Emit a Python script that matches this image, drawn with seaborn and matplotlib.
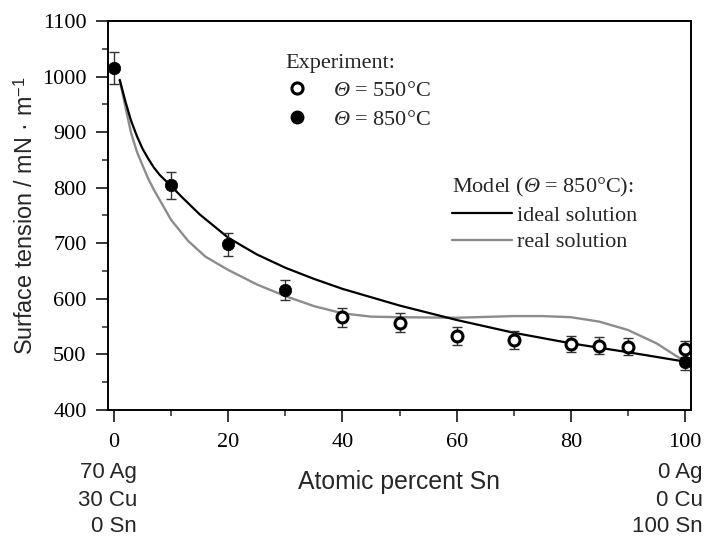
import matplotlib
matplotlib.use("Agg")
import matplotlib.pyplot as plt
import seaborn as sns
import pandas as pd
from matplotlib.lines import Line2D
from matplotlib.ticker import MultipleLocator

# ---------------- data ----------------
x_850 = [0, 10, 20, 30, 100]
y_850 = [1016, 804, 698, 616, 487]
err_850 = [29, 24, 21, 18, 15]

x_550 = [40, 50, 60, 70, 80, 85, 90, 100]
y_550 = [567, 557, 533, 526, 519, 516, 514, 510]
err_550 = [17, 17, 16, 16, 15, 15, 15, 15]

x_ideal = [1, 2, 3, 4, 5, 6, 7, 8, 10, 12, 15, 20, 25, 30, 35, 40, 50, 60, 70, 80, 90, 100]
y_ideal = [994, 955, 920, 893, 870, 852, 836, 823, 803, 782, 752, 710, 680, 656, 636, 618,
           588, 562, 539, 520, 504, 487]

x_real = [1, 2, 3, 4, 5, 6, 7, 8, 10, 13, 16, 20, 25, 30, 35, 40, 45, 50, 60, 70, 75, 80,
          85, 90, 95, 100]
y_real = [994, 945, 898, 865, 840, 816, 796, 778, 742, 704, 676, 652, 626, 605, 587, 574,
          568, 567, 566, 569, 569, 567, 559, 544, 520, 487]

left_comp = ["70 Ag", "30 Cu", "0 Sn"]
right_comp = ["0 Ag", "0 Cu", "100 Sn"]

# ---------------- style ----------------
sns.set_style("ticks")
plt.rcParams["font.family"] = ["Liberation Serif", "DejaVu Serif"]
plt.rcParams["mathtext.fontset"] = "custom"
plt.rcParams["mathtext.rm"] = "Liberation Serif"
plt.rcParams["mathtext.it"] = "Liberation Serif:italic"
plt.rcParams["mathtext.cal"] = "Liberation Serif:italic"
plt.rcParams["mathtext.sf"] = "Liberation Sans"

FS = 16
SANS = ["Liberation Sans", "DejaVu Sans"]
THETA = r"$\mathcal{\Theta}$"

fig = plt.figure(figsize=(7.07, 5.37), dpi=100)
ax = fig.add_axes([0.1528, 0.2365, 0.8242, 0.7244])

df_ideal = pd.DataFrame({"x": x_ideal, "y": y_ideal})
df_real = pd.DataFrame({"x": x_real, "y": y_real})
sns.lineplot(data=df_real, x="x", y="y", ax=ax, color="#8c8c8c", linewidth=1.7,
             estimator=None, sort=False, zorder=2)
sns.lineplot(data=df_ideal, x="x", y="y", ax=ax, color="black", linewidth=1.6,
             estimator=None, sort=False, zorder=3)

ax.errorbar(x_550, y_550, yerr=err_550, fmt="none", ecolor="#333333",
            elinewidth=1.0, capsize=3.8, capthick=1.0, zorder=4)
ax.errorbar(x_850, y_850, yerr=err_850, fmt="none", ecolor="#333333",
            elinewidth=1.0, capsize=3.8, capthick=1.0, zorder=4)

df550 = pd.DataFrame({"x": x_550, "y": y_550})
df850 = pd.DataFrame({"x": x_850, "y": y_850})
sns.scatterplot(data=df550, x="x", y="y", ax=ax, marker="o", s=62,
                facecolor="white", edgecolor="black", linewidth=2.2, zorder=5)
sns.scatterplot(data=df850, x="x", y="y", ax=ax, marker="o", s=80,
                color="black", edgecolor="black", linewidth=0.5, zorder=6)

ax.set_xlim(-1.05, 101.0)
ax.set_ylim(400, 1100)
ax.xaxis.set_major_locator(MultipleLocator(20))
ax.xaxis.set_minor_locator(MultipleLocator(10))
ax.yaxis.set_major_locator(MultipleLocator(100))
ax.yaxis.set_minor_locator(MultipleLocator(50))
ax.tick_params(which="major", direction="out", length=8.5, width=1.1,
               labelsize=FS, pad=7, colors="black")
ax.tick_params(which="minor", direction="out", length=4.5, width=1.1)
ax.tick_params(axis="x", which="major", pad=8)
for sp in ax.spines.values():
    sp.set_visible(True)
    sp.set_linewidth(1.4)
    sp.set_color("black")
for lab in ax.get_xticklabels() + ax.get_yticklabels():
    lab.set_fontfamily(["Liberation Serif", "DejaVu Serif"])

ax.set_xlabel("Atomic percent Sn", fontsize=17.8, family=SANS)
ax.set_ylabel(r"Surface tension / mN · m$^{\mathsf{-1}}$", fontsize=16.8, family=SANS)
ax.xaxis.set_label_coords(0.5, -0.185)
ax.xaxis.label.set_va("center")
ax.yaxis.set_label_coords(-0.141, 0.5)
ax.yaxis.label.set_va("center")

# ---------------- legends ----------------
h_open = Line2D([], [], marker="o", linestyle="none", markersize=8,
                markerfacecolor="white", markeredgecolor="black", markeredgewidth=2.2)
h_fill = Line2D([], [], marker="o", linestyle="none", markersize=9,
                markerfacecolor="black", markeredgecolor="black")
leg1 = ax.legend([h_open, h_fill],
                 [THETA + " = 550°C", THETA + " = 850°C"],
                 title="Experiment:", loc="upper left",
                 bbox_to_anchor=(0.3038, 0.916), frameon=False, fontsize=FS,
                 title_fontsize=FS, handlelength=1.05, handletextpad=1.1,
                 labelspacing=0.36, borderpad=0, borderaxespad=0,
                 alignment="left")
ax.add_artist(leg1)

h_ideal = Line2D([], [], color="black", linewidth=1.6)
h_real = Line2D([], [], color="#8c8c8c", linewidth=1.7)
leg2 = ax.legend([h_ideal, h_real], ["ideal solution", "real solution"],
                 title="Model (" + THETA + " = 850°C):", loc="upper left",
                 bbox_to_anchor=(0.590, 0.602), frameon=False, fontsize=FS,
                 title_fontsize=FS, handlelength=2.7, handletextpad=0.25,
                 labelspacing=0.28, borderpad=0, borderaxespad=0,
                 alignment="left")

# ---------------- composition labels ----------------
W, H = 707.0, 537.0
rows_y = [472.7, 500.0, 526.7]
for txt, yy in zip(left_comp, rows_y):
    fig.text(137 / W, 1 - yy / H, txt, ha="right", va="center", fontsize=FS, family=SANS)
for txt, yy in zip(right_comp, rows_y):
    fig.text(703 / W, 1 - yy / H, txt, ha="right", va="center", fontsize=FS, family=SANS)

fig.savefig("out.png", dpi=100)
